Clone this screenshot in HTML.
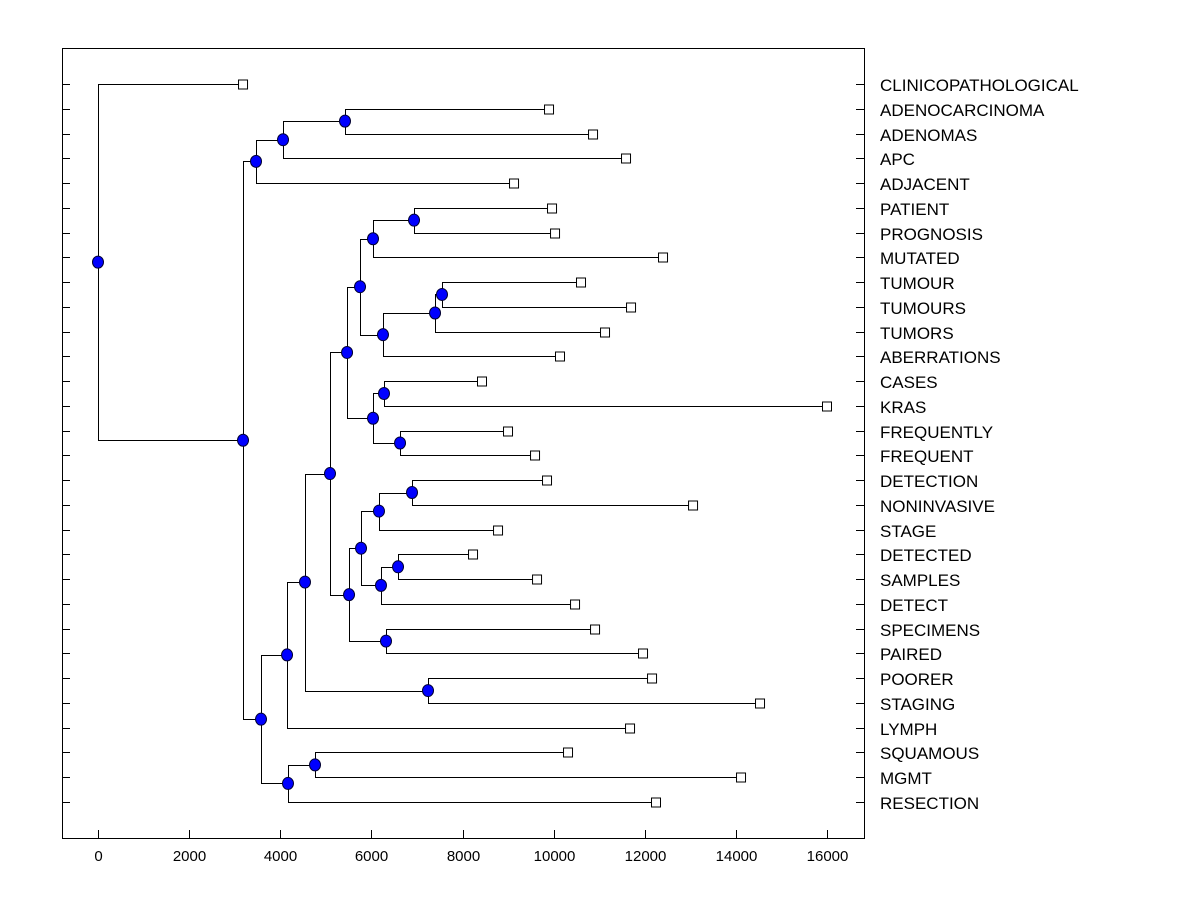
<!DOCTYPE html>
<html><head><meta charset="utf-8"><style>
html,body{margin:0;padding:0;background:#fff;}
svg{display:block;font-family:"Liberation Sans",Arial,sans-serif;}
</style></head><body>
<svg id="chart" width="1200" height="900" xmlns="http://www.w3.org/2000/svg"></svg>
<script>
const leafNames = ["CLINICOPATHOLOGICAL","ADENOCARCINOMA","ADENOMAS","APC","ADJACENT","PATIENT","PROGNOSIS","MUTATED","TUMOUR","TUMOURS","TUMORS","ABERRATIONS","CASES","KRAS","FREQUENTLY","FREQUENT","DETECTION","NONINVASIVE","STAGE","DETECTED","SAMPLES","DETECT","SPECIMENS","PAIRED","POORER","STAGING","LYMPH","SQUAMOUS","MGMT","RESECTION"];
const leafValues = [3183,9899,10865,11589,9131,9965,10031,12401,10601,11699,11128,10140,8428,16000,8999,9592,9855,13060,8780,8231,9636,10470,10909,11962,12160,14530,11677,10316,14113,12247];
const nodeIds    = ["E","D","B","Q","O","S","R","P","M","T","U","N","K","Z","X","AA","Y","V","W","L","I","J","H","F","AB","G","C","A","ROOT"];
const nodeLeft   = ["L1","E","D","L5","Q","L8","S","R","O","L12","L14","T","M","L16","Z","L19","AA","X","L22","V","K","L24","I","H","L27","AB","F","B","L0"];
const nodeRight  = ["L2","L3","L4","L6","L7","L9","L10","L11","P","L13","L15","U","N","L17","L18","L20","L21","Y","L23","W","L","L25","J","L26","L28","L29","G","C","A"];
const nodeValues = [5421,4061,3468,6936,6036,7550,7397,6255,5751,6277,6629,6036,5466,6892,6167,6585,6211,5773,6321,5510,5092,7243,4543,4149,4763,4170,3578,3183,0];
const xTicks = [0,2000,4000,6000,8000,10000,12000,14000,16000];

const NS="http://www.w3.org/2000/svg";
const svg=document.getElementById('chart');
const X0=98, XS=729/16000, Y0=84, YS=718/29;
const px=v=>X0+v*XS, rowY=i=>Y0+i*YS;
function mk(tag,attrs,parent){const e=document.createElementNS(NS,tag);for(const k in attrs)e.setAttribute(k,attrs[k]);(parent||svg).appendChild(e);return e;}

const frame=mk('rect',{x:62.5,y:48.5,width:802,height:790,fill:'none',stroke:'#000','stroke-width':1});



leafNames.forEach((n,i)=>{
  const y=Math.round(rowY(i))+0.5;
  const t1=mk('line',{x1:62,x2:70,y1:y,y2:y,stroke:'#000'});
  
  
  const t2=mk('line',{x1:856,x2:864,y1:y,y2:y,stroke:'#000'});
  
  
  const lb=mk('text',{x:880,y:y+6.5,'font-size':17,fill:'#000'});
  lb.textContent=n;
  
  
});
xTicks.forEach(v=>{
  const x=Math.round(px(v))+0.5;
  const t=mk('line',{x1:x,x2:x,y1:830,y2:838,stroke:'#000'});
  
  
  const lb=mk('text',{x:x,y:861,'font-size':15,'text-anchor':'middle',fill:'#000'});
  lb.textContent=v;
  
  
});

const pos={};
leafNames.forEach((n,i)=>{pos['L'+i]={x:px(leafValues[i]),y:rowY(i),leaf:true};});
nodeIds.forEach((id,k)=>{
  const a=pos[nodeLeft[k]], b=pos[nodeRight[k]];
  pos[id]={x:px(nodeValues[k]),y:(a.y+b.y)/2,leaf:false,l:nodeLeft[k],r:nodeRight[k]};
});
const gLines=mk('g',{stroke:'#000','stroke-width':1,fill:'none'});


nodeIds.forEach(id=>{
  const p=pos[id], a=pos[p.l], b=pos[p.r];
  const x=Math.round(p.x)+0.5;
  const br=mk('path',{d:`M${a.x},${Math.round(a.y)+0.5}H${x}V${Math.round(b.y)+0.5}H${b.x}`},gLines);
  
  
});
leafNames.forEach((n,i)=>{
  const p=pos['L'+i];
  const s=mk('rect',{x:p.x-4.5,y:Math.round(p.y)-4,width:9,height:9,fill:'#fff',stroke:'#000'});
  
  
});
nodeIds.forEach(id=>{
  const p=pos[id];
  const c=mk('ellipse',{cx:p.x,cy:p.y,rx:5.5,ry:6,fill:'#0000ff',stroke:'#000033','stroke-width':1});
  
  
});
</script>
</body></html>
